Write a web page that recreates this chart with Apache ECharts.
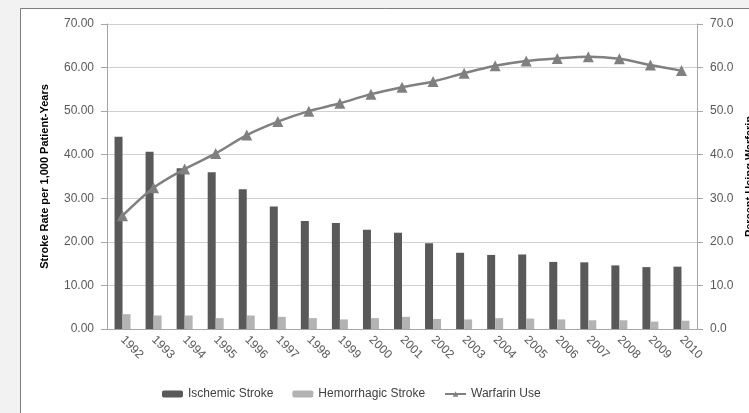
<!DOCTYPE html>
<html>
<head>
<meta charset="utf-8">
<script src="https://cdn.jsdelivr.net/npm/echarts@6/dist/echarts.min.js"></script>
<style>
  html, body { margin: 0; padding: 0; background: #f2f2f2; }
  #chart { width: 749px; height: 413px; }
</style>
</head>
<body>
<div id="chart"></div>
<script>
  // data
  const years = ['1992', '1993', '1994', '1995', '1996', '1997', '1998', '1999', '2000', '2001',
    '2002', '2003', '2004', '2005', '2006', '2007', '2008', '2009', '2010']
  const ischemic = [44.1, 40.7, 36.9, 36.0, 32.1, 28.1, 24.8, 24.3, 22.8, 22.1,
    19.7, 17.5, 17.0, 17.1, 15.4, 15.3, 14.6, 14.2, 14.3]
  const hemorrhagic = [3.4, 3.1, 3.1, 2.5, 3.1, 2.8, 2.5, 2.2, 2.5, 2.8,
    2.3, 2.2, 2.5, 2.4, 2.2, 2.0, 2.0, 1.7, 1.9]
  const warfarin = [26.0, 32.4, 36.7, 40.3, 44.5, 47.6, 50.0, 51.8, 53.9, 55.5,
    56.8, 58.7, 60.4, 61.5, 62.1, 62.5, 62.0, 60.6, 59.3]

  const textColor = '#595959'
  const font = 'Liberation Sans'

  const chart = echarts.init(document.getElementById('chart'))
  chart.setOption({
    backgroundColor: '#f2f2f2',
    animation: false,
    textStyle: { fontFamily: font },
    graphic: [{
      type: 'rect',
      z: -10,
      shape: { x: 20.5, y: 8.5, width: 760, height: 420 },
      style: { fill: '#ffffff', stroke: '#7f7f7f', lineWidth: 1 }
    }],
    grid: { left: 107, right: 52, top: 24, bottom: 84, outerBoundsMode: 'none' },
    legend: {
      left: 157,
      top: 383,
      itemWidth: 21,
      itemHeight: 7,
      itemGap: 19,
      textStyle: { color: '#404040', fontSize: 12, fontFamily: font },
      data: ['Ischemic Stroke', 'Hemorrhagic Stroke', 'Warfarin Use']
    },
    xAxis: {
      type: 'category',
      data: years,
      axisLine: { lineStyle: { color: '#a6a6a6' } },
      axisTick: { length: 5, lineStyle: { color: '#a6a6a6' } },
      axisLabel: { rotate: -45, color: textColor, fontSize: 12, margin: 9 }
    },
    yAxis: [
      {
        type: 'value',
        min: 0,
        max: 70,
        interval: 10,
        name: 'Stroke Rate per 1,000 Patient-Years',
        nameLocation: 'middle',
        nameRotate: 90,
        nameGap: 57,
        nameTextStyle: { color: '#000000', fontWeight: 'bold', fontSize: 11 },
        axisLine: { show: true, lineStyle: { color: '#a6a6a6' } },
        axisTick: { show: true, length: 6, lineStyle: { color: '#a6a6a6' } },
        axisLabel: { color: textColor, fontSize: 12, margin: 13, formatter: v => v.toFixed(2) },
        splitLine: { lineStyle: { color: '#d0d0d0' } }
      },
      {
        type: 'value',
        min: 0,
        max: 70,
        interval: 10,
        position: 'right',
        name: 'Percent Using Warfarin',
        nameLocation: 'middle',
        nameRotate: 90,
        nameGap: 47,
        nameTextStyle: { color: '#000000', fontWeight: 'bold', fontSize: 11 },
        axisLine: { show: true, lineStyle: { color: '#a6a6a6' } },
        axisTick: { show: true, length: 6, lineStyle: { color: '#a6a6a6' } },
        axisLabel: { color: textColor, fontSize: 12, margin: 13, formatter: v => v.toFixed(1) },
        splitLine: { show: false }
      }
    ],
    series: [
      {
        name: 'Ischemic Stroke',
        type: 'bar',
        data: ischemic,
        barWidth: 8,
        barGap: '0%',
        itemStyle: { color: '#595959' }
      },
      {
        name: 'Hemorrhagic Stroke',
        type: 'bar',
        data: hemorrhagic,
        barWidth: 8,
        barGap: '0%',
        itemStyle: { color: '#b3b3b3' }
      },
      {
        name: 'Warfarin Use',
        type: 'line',
        yAxisIndex: 1,
        data: warfarin,
        smooth: 0.3,
        symbol: 'triangle',
        symbolSize: 11,
        lineStyle: { color: '#808080', width: 2.5 },
        itemStyle: { color: '#808080' }
      }
    ]
  })
</script>
</body>
</html>
